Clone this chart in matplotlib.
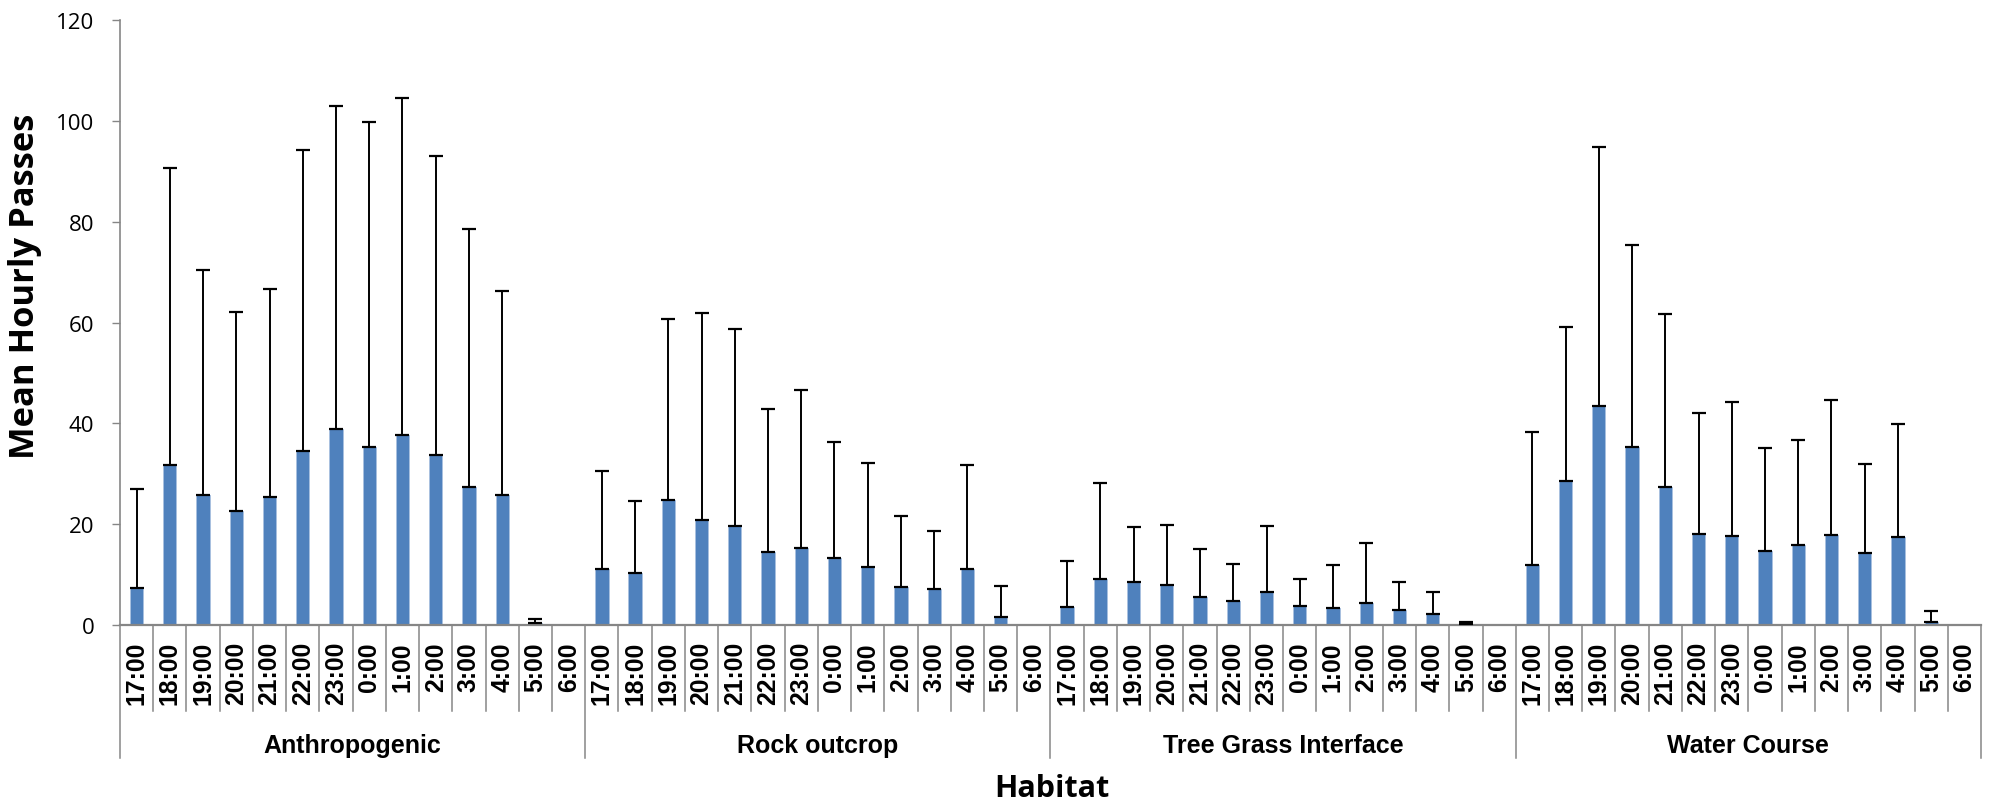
import numpy as np
import matplotlib
matplotlib.use("Agg")
import matplotlib.pyplot as plt
import matplotlib.transforms as mtransforms

hours = ["17:00", "18:00", "19:00", "20:00", "21:00", "22:00", "23:00",
         "0:00", "1:00", "2:00", "3:00", "4:00", "5:00", "6:00"]
habitats = ["Anthropogenic", "Rock outcrop", "Tree Grass Interface", "Water Course"]

# mean hourly passes per habitat
anthropogenic = [7.2, 31.7, 25.8, 22.5, 25.4, 34.5, 38.9, 35.3, 37.7, 33.7, 27.3, 25.7, 0.3, 0]
rock_outcrop = [11.0, 10.2, 24.7, 20.7, 19.6, 14.5, 15.2, 13.2, 11.4, 7.5, 7.1, 11.1, 1.5, 0]
tree_grass = [3.6, 9.0, 8.5, 7.9, 5.5, 4.8, 6.4, 3.7, 3.4, 4.3, 3.0, 2.1, 0.1, 0]
water_course = [11.9, 28.5, 43.4, 35.2, 27.4, 18.1, 17.7, 14.7, 15.9, 17.9, 14.2, 17.4, 0.6, 0]

# standard deviations (upper error bars)
anthropogenic_sd = [19.7, 58.9, 44.7, 39.5, 41.2, 59.7, 64.1, 64.6, 66.9, 59.4, 51.2, 40.6, 0.9, 0]
rock_outcrop_sd = [19.5, 14.3, 36.0, 41.2, 39.1, 28.3, 31.3, 23.0, 20.8, 14.1, 11.5, 20.7, 6.2, 0]
tree_grass_sd = [9.0, 19.2, 10.9, 11.8, 9.6, 7.3, 13.1, 5.4, 8.4, 11.9, 5.5, 4.4, 0.4, 0]
water_course_sd = [26.4, 30.6, 51.4, 40.1, 34.3, 23.9, 26.6, 20.4, 20.7, 26.7, 17.8, 22.4, 2.1, 0]

y_ticks = [0, 20, 40, 60, 80, 100, 120]


def main():
    means = np.array(anthropogenic + rock_outcrop + tree_grass + water_course, dtype=float)
    sds = np.array(anthropogenic_sd + rock_outcrop_sd + tree_grass_sd + water_course_sd, dtype=float)
    n_h = len(hours)
    x = np.arange(len(means))

    fig = plt.figure(figsize=(19.93, 8.03), dpi=100)
    ax = fig.add_axes([120 / 1993, 1 - 625.7 / 803, 1861 / 1993, 604.4 / 803])

    gray = "#868686"
    ax.bar(x, means, width=0.4, color="#4F81BD", edgecolor="#A9C1E0", linewidth=0.7, zorder=2)

    # only upper error bars, skip the empty ones
    m = sds > 0
    ax.errorbar(x[m], means[m], yerr=[np.zeros(m.sum()), sds[m]], fmt="none",
                ecolor="black", elinewidth=1.4, capsize=4.7, capthick=1.6, zorder=3)

    ax.set_xlim(-0.5, len(means) - 0.5)
    ax.set_ylim(0, 120)
    ax.set_yticks(y_ticks)
    ax.set_yticklabels([str(v) for v in y_ticks], fontfamily="Open Sans", fontsize=16)
    ax.tick_params(axis="y", direction="out", length=5.5, width=1, color=gray, pad=13)
    ax.set_xticks([])

    for s in ["top", "right"]:
        ax.spines[s].set_visible(False)
    ax.spines["left"].set_color(gray)
    ax.spines["bottom"].set_color(gray)
    ax.spines["left"].set_linewidth(1.2)
    ax.spines["bottom"].set_linewidth(1.6)

    trans = mtransforms.blended_transform_factory(ax.transData, ax.transAxes)

    # multi-level category axis
    for k in range(len(means) + 1):
        bottom = -0.2205 if k % n_h == 0 else -0.1423
        ax.plot([k - 0.5, k - 0.5], [0, bottom], transform=trans, color=gray,
                linewidth=1.1, clip_on=False, zorder=1)

    for i in x:
        ax.text(i, -0.027, hours[i % n_h], transform=trans, rotation=90,
                ha="center", va="top", fontfamily="Liberation Sans",
                fontweight="bold", fontsize=17.8)

    for g, name in enumerate(habitats):
        ax.text(g * n_h + (n_h - 1) / 2, -0.2106, name, transform=trans,
                ha="center", va="baseline", fontfamily="Liberation Sans",
                fontweight="bold", fontsize=18)

    fig.text(1052 / 1993, 1 - 796.7 / 803, "Habitat", ha="center", va="baseline",
             fontfamily="Open Sans", fontweight="bold", fontsize=22)
    fig.text(25 / 1993, 1 - 286 / 803, "Mean Hourly Passes", rotation=90,
             ha="center", va="center", fontfamily="Open Sans",
             fontweight="bold", fontsize=24.8)

    fig.savefig("out.png", dpi=100)


if __name__ == "__main__":
    main()
